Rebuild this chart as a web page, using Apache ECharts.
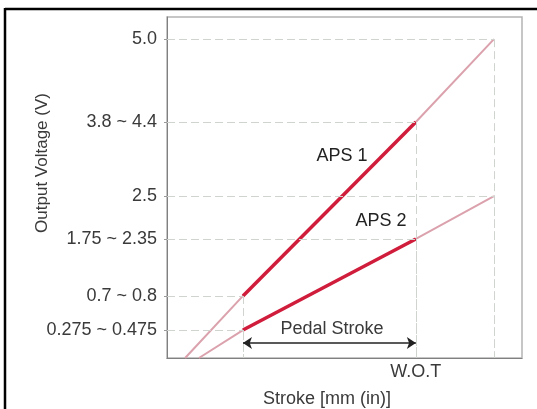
<!DOCTYPE html>
<html>
<head>
<meta charset="utf-8">
<script src="https://cdn.jsdelivr.net/npm/echarts@6/dist/echarts.min.js"></script>
<style>
html,body{margin:0;padding:0;background:#fff;}
#c{width:537px;height:409px;}
</style>
</head>
<body>
<div id="c"></div>
<script>
// Schematic levels (axis units, 0..100) and their tick texts
const yTickLevels = [8.2, 18.2, 34.9, 47.5, 69.2, 93.5];
const yTickLabels = ['0.275 ~ 0.475', '0.7 ~ 0.8', '1.75 ~ 2.35', '2.5', '3.8 ~ 4.4', '5.0'];
const xTickValues = [70.1];
const xTickLabels = ['W.O.T'];

// Stroke positions (axis units) : start, pedal start, WOT, end
const aps1Stroke = [5.1, 21.4, 70.1, 92.1];
const aps1Level  = [0, 18.2, 69.2, 93.5];
const aps2Stroke = [9.0, 21.4, 70.1, 92.1];
const aps2Level  = [0, 8.2, 34.9, 47.5];
const pedalStartIdx = 1, wotIdx = 2;
const arrowLevel = 4.4;

const FONT = '"Liberation Sans", Arial, sans-serif';
const TXT = '#3a3a3a';

function pairs(xs, ys, a, b) {
  const out = [];
  for (let i = a; i <= b; i++) out.push([xs[i], ys[i]]);
  return out;
}
function dropLines(xs, ys) {
  const out = [];
  for (let i = 1; i < xs.length; i++) {
    out.push([{coord: [0, ys[i]]}, {coord: [xs[i], ys[i]]}]);
    out.push([{coord: [xs[i], ys[i]]}, {coord: [xs[i], 0]}]);
  }
  return out;
}

const chart = echarts.init(document.getElementById('c'), null, {renderer: 'canvas'});
chart.setOption({
  animation: false,
  backgroundColor: '#fff',
  grid: {left: 167, top: 17, right: 15, bottom: 51, show: true, borderColor: '#b4b4b4', borderWidth: 1.5},
  xAxis: {
    type: 'value', min: 0, max: 100,
    splitLine: {show: false},
    axisLine: {show: true, lineStyle: {color: '#808080', width: 1}},
    axisTick: {show: false},
    axisLabel: {
      customValues: xTickValues, margin: 5,
      fontSize: 18, fontFamily: FONT, color: TXT,
      formatter: v => { const i = xTickValues.findIndex(t => Math.abs(t - v) < 1e-6); return i >= 0 ? xTickLabels[i] : ''; }
    }
  },
  yAxis: {
    type: 'value', min: 0, max: 100,
    splitLine: {show: false},
    axisLine: {show: true, lineStyle: {color: '#808080', width: 1}},
    axisTick: {show: true, customValues: yTickLevels, length: 3, lineStyle: {color: '#999'}},
    axisLabel: {
      customValues: yTickLevels, margin: 10,
      fontSize: 18, fontFamily: FONT, color: TXT,
      formatter: v => { const i = yTickLevels.findIndex(t => Math.abs(t - v) < 1e-6); return i >= 0 ? yTickLabels[i] : ''; }
    }
  },
  series: [
    {
      type: 'line', data: [], z: 1, silent: true,
      markLine: {
        silent: true, symbol: 'none', animation: false,
        label: {show: false},
        lineStyle: {color: '#cfd4cf', width: 1, type: [8, 4]},
        data: dropLines(aps1Stroke, aps1Level).concat(dropLines(aps2Stroke, aps2Level))
      }
    },
    {
      type: 'line', name: 'APS 1 full', z: 3, showSymbol: false,
      data: pairs(aps1Stroke, aps1Level, 0, aps1Stroke.length - 1),
      lineStyle: {color: '#dba2ad', width: 2}
    },
    {
      type: 'line', name: 'APS 2 full', z: 3, showSymbol: false,
      data: pairs(aps2Stroke, aps2Level, 0, aps2Stroke.length - 1),
      lineStyle: {color: '#dba2ad', width: 2}
    },
    {
      type: 'line', name: 'APS 1', z: 4, showSymbol: false,
      data: pairs(aps1Stroke, aps1Level, pedalStartIdx, wotIdx),
      lineStyle: {color: '#d01d3c', width: 3.5}
    },
    {
      type: 'line', name: 'APS 2', z: 4, showSymbol: false,
      data: pairs(aps2Stroke, aps2Level, pedalStartIdx, wotIdx),
      lineStyle: {color: '#d01d3c', width: 3.5}
    },
    {
      type: 'line', data: [], z: 5, silent: true,
      markLine: {
        silent: true, animation: false,
        symbol: ['arrow', 'arrow'], symbolSize: [9, 9],
        label: {show: false},
        lineStyle: {color: '#222', width: 1.5, type: 'solid'},
        data: [[{coord: [aps1Stroke[pedalStartIdx], arrowLevel]}, {coord: [aps1Stroke[wotIdx], arrowLevel]}]]
      }
    }
  ],
  graphic: [
    {type: 'line', shape: {x1: 5, y1: 9, x2: 537, y2: 9}, style: {stroke: '#000', lineWidth: 2.5}},
    {type: 'line', shape: {x1: 5, y1: 8, x2: 5, y2: 409}, style: {stroke: '#000', lineWidth: 2.5}},
    {type: 'text', x: 342, y: 156, style: {text: 'APS 1', font: '18px ' + FONT, fill: '#222', align: 'center', verticalAlign: 'middle'}},
    {type: 'text', x: 381, y: 221, style: {text: 'APS 2', font: '18px ' + FONT, fill: '#222', align: 'center', verticalAlign: 'middle'}},
    {type: 'text', x: 332, y: 329, style: {text: 'Pedal Stroke', font: '18px ' + FONT, fill: TXT, align: 'center', verticalAlign: 'middle'}},
    {type: 'text', x: 327, y: 399, style: {text: 'Stroke [mm (in)]', font: '18px ' + FONT, fill: TXT, align: 'center', verticalAlign: 'middle'}},
    {type: 'text', x: 42, y: 163, rotation: Math.PI / 2, style: {text: 'Output Voltage (V)', font: '17px ' + FONT, fill: TXT, align: 'center', verticalAlign: 'middle'}}
  ]
});
</script>
</body>
</html>
